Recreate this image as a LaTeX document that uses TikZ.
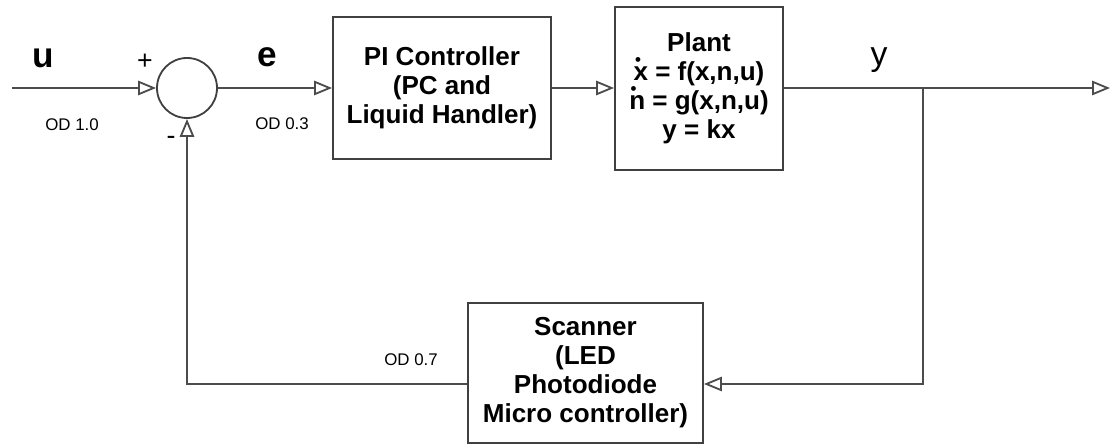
\documentclass[tikz,border=0pt]{standalone}
\usepackage{fontspec}
\setmainfont{Liberation Sans}
\usepackage{tikz}
\usetikzlibrary{arrows.meta, positioning, calc}

\newcommand{\dotvar}[1]{\leavevmode\rlap{\hspace{1pt}\raisebox{11pt}{\fontsize{12}{12}\selectfont\textbullet}}#1}

\begin{document}
\begin{tikzpicture}[x=0.025cm, y=-0.025cm,
  wire/.style={draw=black!70, line width=1.3pt},
  flow/.style={wire, -{Triangle[open, length=0.45cm, width=0.36cm]}},
  block/.style={draw=black!75, line width=1.3pt, align=center, inner sep=0pt,
    font=\bfseries\fontsize{18.5}{20.6}\selectfont},
  sig/.style={font=\bfseries\fontsize{25}{25}\selectfont, anchor=base},
  od/.style={font=\fontsize{12}{12}\selectfont}]

\useasboundingbox (0,0) rectangle (1112,445);

% Sumador
\node[draw=black!75, line width=1.3pt, circle, minimum size=1.5cm, inner sep=0pt] (sum) at (187,88) {};
\node[font=\fontsize{19}{19}\selectfont] (plus) at (145,62) {+};
\node[font=\fontsize{19}{19}\selectfont] (minus) at (171,140) {-};

% Bloques
\node[block, minimum width=5.45cm, minimum height=3.55cm] (ctrl) at (442,88) {PI Controller\\(PC and\\Liquid Handler)};
\node[block, minimum width=4.2cm, minimum height=4.075cm] (plant) at (699,88.5) {Plant\\\dotvar{x} = f(x,n,u)\\\dotvar{n} = g(x,n,u)\\y = kx};
\node[block, minimum width=5.875cm, minimum height=3.5cm] (scan) at (585.5,373) {Scanner\\(LED\\Photodiode\\Micro controller)};

% Puntos del lazo
\coordinate (in) at (12,88);
\coordinate (out) at (1110,88);
\coordinate (branch) at (923,88);
\coordinate (fbleft) at (187,384);

% Conexiones
\draw[flow] (in) -- (sum.west);
\draw[flow] (sum.east) -- (ctrl.west |- sum.east);
\draw[flow] (ctrl.east |- sum.east) -- (plant.west |- sum.east);
\draw[flow] (plant.east |- sum.east) -- (out);
\draw[flow] (branch) |- (scan.east |- fbleft);
\draw[flow] (scan.west |- fbleft) -- (fbleft) -- (sum.south);

% Etiquetas
\node[sig] (ulabel) at (43,68) {u};
\node[sig] (elabel) at (267,67) {e};
\node[font=\fontsize{24}{24}\selectfont, anchor=base] (ylabel) at (879,66) {y};
\node[od] (od1) at (72,125) {OD 1.0};
\node[od] (od3) at (282,124) {OD 0.3};
\node[od] (od7) at (411,360) {OD 0.7};

\end{tikzpicture}
\end{document}
